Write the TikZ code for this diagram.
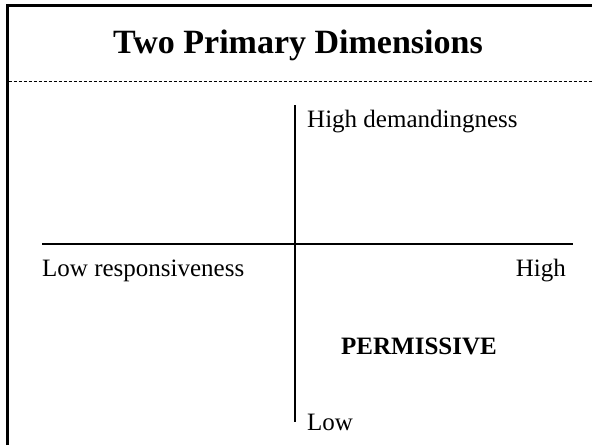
\documentclass[tikz,border=0pt]{standalone}
\usepackage{fontspec}
\setmainfont{Liberation Serif}
\begin{document}
\begin{tikzpicture}[x=1pt,y=-1pt,
  frame/.style={line width=2.5pt,black},
  axis/.style={line width=2pt,black},
  lbl/.style={inner sep=0pt,font=\fontsize{25}{30}\selectfont}]
\useasboundingbox (0,0) rectangle (592,445);
\coordinate (tl) at (7.5,5.5);
\coordinate (tr) at (592,5.5);
\coordinate (bl) at (7.5,445);
\draw[frame] (bl) -- (tl) -- (tr);
\coordinate (dl) at (8.5,81);
\coordinate (dr) at (592,81);
\draw[line width=0.8pt,dash pattern=on 3pt off 2pt] (dl) -- (dr);
\node[inner sep=0pt,anchor=base,font=\bfseries\fontsize{34}{40}\selectfont] (title) at (298,53) {Two Primary Dimensions};
\coordinate (vt) at (295,105);
\coordinate (vb) at (295,422);
\coordinate (hl) at (42,244);
\coordinate (hr) at (573,244);
\draw[axis] (vt) -- (vb);
\draw[axis] (hl) -- (hr);
\node[lbl,anchor=base west] (hd) at (307,127) {High demandingness};
\node[lbl,anchor=base west] (lr) at (42,276) {Low responsiveness};
\node[lbl,anchor=base east] (hi) at (566,276) {High};
\node[lbl,anchor=base,font=\bfseries\fontsize{25}{30}\selectfont] (perm) at (419,354) {PERMISSIVE};
\node[lbl,anchor=base west] (lo) at (307,430) {Low};
\end{tikzpicture}
\end{document}
